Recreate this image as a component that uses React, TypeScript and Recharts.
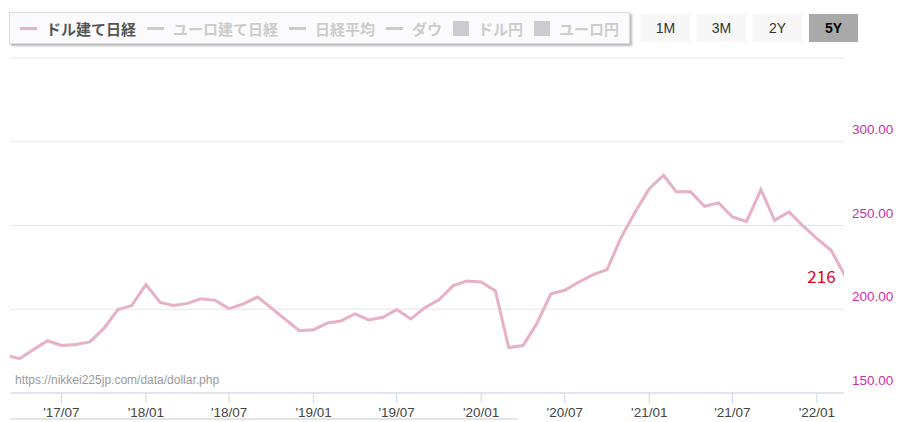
import { LineChart, Line, XAxis, YAxis, CartesianGrid, ReferenceDot } from 'recharts'

// monthly close of the dollar-denominated Nikkei, last point is the latest value
const dates = [
  '2017-03-01', '2017-04-01', '2017-05-01', '2017-06-01', '2017-07-01', '2017-08-01',
  '2017-09-01', '2017-10-01', '2017-11-01', '2017-12-01', '2018-01-01', '2018-02-01',
  '2018-03-01', '2018-04-01', '2018-05-01', '2018-06-01', '2018-07-01', '2018-08-01',
  '2018-09-01', '2018-10-01', '2018-11-01', '2018-12-01', '2019-01-01', '2019-02-01',
  '2019-03-01', '2019-04-01', '2019-05-01', '2019-06-01', '2019-07-01', '2019-08-01',
  '2019-09-01', '2019-10-01', '2019-11-01', '2019-12-01', '2020-01-01', '2020-02-01',
  '2020-03-01', '2020-04-01', '2020-05-01', '2020-06-01', '2020-07-01', '2020-08-01',
  '2020-09-01', '2020-10-01', '2020-11-01', '2020-12-01', '2021-01-01', '2021-02-01',
  '2021-03-01', '2021-04-01', '2021-05-01', '2021-06-01', '2021-07-01', '2021-08-01',
  '2021-09-01', '2021-10-01', '2021-11-01', '2021-12-01', '2022-01-01', '2022-02-01',
  '2022-03-11',
]
const dollarNikkei = [
  172.6, 170.5, 175.9, 181.2, 178.4, 179.0,
  180.5, 188.4, 199.8, 202.2, 214.7, 204.1,
  202.2, 203.5, 206.3, 205.3, 200.4, 203.2,
  207.3, 200.8, 193.8, 187.2, 187.8, 191.8,
  193.0, 197.2, 193.6, 195.2, 199.8, 194.2,
  201.1, 205.7, 214.1, 216.9, 216.3, 210.9,
  177.1, 178.3, 191.4, 209.3, 211.3, 216.3,
  220.7, 223.7, 243.0, 257.9, 272.0, 280.0,
  270.1, 270.1, 261.5, 263.5, 255.1, 252.5,
  271.4, 253.1, 258.1, 249.9, 242.2, 235.2,
  216,
]
const tickDates = ['2017-07-01', '2018-01-01', '2018-07-01', '2019-01-01', '2019-07-01',
  '2020-01-01', '2020-07-01', '2021-01-01', '2021-07-01', '2022-01-01']
const yTicks = [150, 200, 250, 300, 350]
const rangeStart = '2017-03-11'
const rangeEnd = '2022-03-01'

const legendItems = [
  { name: 'ドル建て日経', kind: 'line', active: true },
  { name: 'ユーロ建て日経', kind: 'line', active: false },
  { name: '日経平均', kind: 'line', active: false },
  { name: 'ダウ', kind: 'line', active: false },
  { name: 'ドル円', kind: 'box', active: false },
  { name: 'ユーロ円', kind: 'box', active: false },
]
const ranges = ['1M', '3M', '2Y', '5Y']

const ts = (s: string) => new Date(s + 'T00:00:00Z').getTime()
const data = dates.map((d, i) => ({ t: ts(d), v: dollarNikkei[i] }))
const last = data[data.length - 1]

const LINE = '#e6b0c8'
const AXIS_FONT = '"Liberation Sans", Arial, sans-serif'
const JP_FONT = '"Noto Sans CJK JP", sans-serif'

const fmtTick = (t: number) => {
  const d = new Date(t)
  return `'${String(d.getUTCFullYear()).slice(2)}/${String(d.getUTCMonth() + 1).padStart(2, '0')}`
}

const YTick = (props: any) => {
  const { x, y, payload } = props
  if (payload.value === 350) return null
  return (
    <text x={x} y={y - 8} textAnchor="start" fontSize={13.5} fontFamily={AXIS_FONT} fill="#cc2fa8">
      {payload.value.toFixed(2)}
    </text>
  )
}

const LastLabel = (props: any) => {
  const { viewBox } = props
  return (
    <text x={viewBox.x - 13} y={viewBox.y + 1} textAnchor="end" fontSize={17}
      fontFamily={JP_FONT} fill="#e3001b">
      {last.v}
    </text>
  )
}

export default function App() {
  return (
    <div style={{ position: 'absolute', left: 0, top: 0, width: 897, height: 422, background: '#fff' }}>
      <LineChart width={897} height={422} data={data} margin={{ top: 58, right: 0, left: 10, bottom: 0 }}>
        <CartesianGrid vertical={false} stroke="#e6e6e6" />
        <XAxis dataKey="t" type="number" scale="time" domain={[ts(rangeStart), ts(rangeEnd)]}
          allowDataOverflow ticks={tickDates.map(ts)} tickFormatter={fmtTick} height={29}
          axisLine={{ stroke: '#ccd6eb' }} tickLine={{ stroke: '#ccd6eb' }} tickSize={10} tickMargin={4}
          tick={{ fontSize: 13.5, fill: '#444', fontFamily: AXIS_FONT }} />
        <YAxis orientation="right" domain={[150, 350]} ticks={yTicks} width={53}
          axisLine={false} tickLine={false} tick={<YTick />} />
        <Line type="linear" dataKey="v" stroke={LINE} strokeWidth={3} dot={false}
          isAnimationActive={false} />
        <ReferenceDot x={last.t} y={last.v} r={0} ifOverflow="visible" label={<LastLabel />} />
      </LineChart>

      {/* legend box */}
      <div style={{
        position: 'absolute', left: 9, top: 12, width: 621, height: 32, boxSizing: 'border-box',
        border: '1px solid #dcdcdc', boxShadow: '2px 2px 2px #b8b8b8', background: '#fbfbfd',
        display: 'flex', alignItems: 'center', paddingLeft: 10, fontFamily: JP_FONT,
        fontWeight: 700, fontSize: 15, whiteSpace: 'nowrap',
      }}>
        {legendItems.map(it => (
          <div key={it.name} style={{ display: 'flex', alignItems: 'center', marginRight: 11,
            color: it.active ? '#555' : '#cccccc' }}>
            {it.kind === 'line'
              ? <span style={{ display: 'inline-block', width: 17, height: 3, marginRight: 9,
                  background: it.active ? LINE : '#cccccc' }} />
              : <span style={{ display: 'inline-block', width: 16, height: 15, marginRight: 9,
                  background: '#cccccc' }} />}
            {it.name}
          </div>
        ))}
      </div>

      {/* range buttons */}
      {ranges.map((r, i) => (
        <div key={r} style={{
          position: 'absolute', left: 641 + i * 56, top: 14, width: 49, height: 28,
          background: r === '5Y' ? '#a9a9a9' : '#f7f7f7', color: r === '5Y' ? '#000' : '#333',
          fontWeight: r === '5Y' ? 700 : 400, fontFamily: AXIS_FONT, fontSize: 14,
          display: 'flex', alignItems: 'center', justifyContent: 'center',
        }}>{r}</div>
      ))}

      <div style={{ position: 'absolute', left: 15, top: 373, fontFamily: AXIS_FONT, fontSize: 12,
        color: '#9a9a9a', lineHeight: '15px' }}>https://nikkei225jp.com/data/dollar.php</div>

      <div style={{ position: 'absolute', left: 10, top: 418, width: 508, height: 2, background: '#e4e4e4' }} />
    </div>
  )
}
